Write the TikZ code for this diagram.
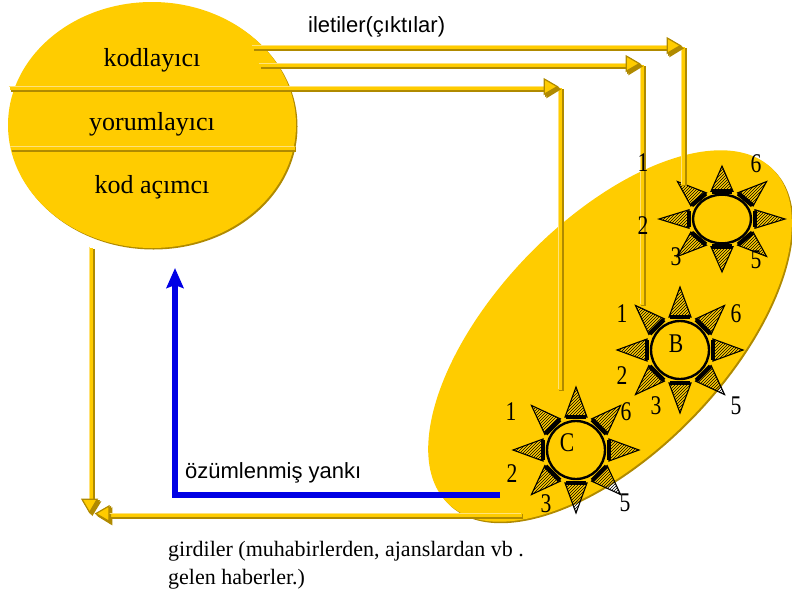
\documentclass[tikz,border=0pt]{standalone}
\usepackage{fontspec}
\setmainfont{Liberation Serif}
\setsansfont{Liberation Sans}
\usepackage{xcolor}
\usepackage{tikz}
\usetikzlibrary{arrows.meta,shapes,positioning,patterns}
\definecolor{gold}{HTML}{FFCC00}
\definecolor{golddark}{HTML}{B08A00}
\definecolor{goldlight}{HTML}{FFE27A}

\begin{document}
\begin{tikzpicture}[
    x=1pt,y=-1pt,
    blob/.style={ellipse,fill=gold,inner sep=0pt,
        preaction={fill=golddark,transform canvas={shift={(1.5pt,-1.5pt)}}}},
    role/.style={font=\fontsize{26}{28}\selectfont,inner sep=0pt},
    caption/.style={font=\sffamily\fontsize{22}{24}\selectfont,inner sep=0pt,anchor=west},
    note/.style={font=\fontsize{22}{28}\selectfont,inner sep=0pt,align=left,anchor=north west},
    num/.style={font=\fontsize{27}{29}\selectfont,inner sep=0pt,xscale=0.8},
    hub/.style={circle,draw=black,line width=2.4pt,minimum size=58pt,inner sep=0pt},
    pipe/.style={draw=gold,line width=4.4pt,
        preaction={draw=golddark,line width=4.4pt,transform canvas={shift={(1.3pt,-1.3pt)}}},
        postaction={draw=goldlight,line width=1.2pt,transform canvas={shift={(-1.4pt,1.4pt)}}}},
    tipped/.style={-{Triangle[length=15pt,width=17pt,fill=gold,color=golddark]}},
    echo/.style={blue!90!black,line width=6pt,-{Stealth[length=20pt,width=17pt,inset=3pt]}},
]
\useasboundingbox (0,0) rectangle (792,592);

\node[blob,minimum width=466pt,minimum height=230pt,rotate=46] (audience) at (610,336) {};
\node[blob,minimum width=288pt,minimum height=246pt] (source) at (152,125) {};

\draw[pipe] (10,88) -- (296,88);
\draw[pipe] (11,148) -- (295,148);

\node[role] (enc) at (152,60) {kodlayıcı};
\node[role] (int) at (152,124) {yorumlayıcı};
\node[role] (dec) at (152,187) {kod açımcı};

% three sun figures
\foreach \name/\cx/\cy/\sy in {sunA/722/219/0.84,sunB/680/350/1,sunC/576/450/1}{
  \node[hub,yscale=\sy] (\name) at (\cx,\cy) {};
  \begin{scope}[shift={(\cx,\cy)},yscale=\sy]
  \foreach \ang in {0,45,...,315}{
    \begin{scope}[rotate=\ang]
    \draw[black,line width=1.1pt,pattern=north east lines,pattern color=black] (33,-11) -- (63,0) -- (33,11) -- cycle;
    \draw[black,line width=4.5pt] (33,-10) -- (33,10);
    \end{scope}
  }
  \end{scope}
}
\node[num] (tagB) at (676,344) {B};
\node[num] (tagC) at (567,443) {C};

\coordinate (outA) at (253,47);
\coordinate (outB) at (260,65);
\coordinate (outC) at (255,88);
\coordinate (bendA) at (683,47);
\coordinate (bendB) at (642,65);
\coordinate (bendC) at (560,88);
\coordinate (inA) at (683,185);
\coordinate (inB) at (642,305);
\coordinate (inC) at (560,390);
\coordinate (backA) at (522,515);
\coordinate (backB) at (91,515);
\coordinate (backC) at (96,515);
\coordinate (downA) at (91,248);
\coordinate (echoA) at (500,495);
\coordinate (echoB) at (175,495);
\coordinate (echoC) at (175,268);

\draw[pipe] (bendA) -- (inA);
\draw[pipe] (bendB) -- (inB);
\draw[pipe] (bendC) -- (inC);
\draw[pipe,tipped] (outA) -- (bendA);
\draw[pipe,tipped] (outB) -- (bendB);
\draw[pipe,tipped] (outC) -- (bendC);
\draw[pipe,tipped] (downA) -- (backB);
\draw[pipe,tipped] (backA) -- (backC);
\draw[echo] (echoA) -- (echoB) -- (echoC);

\node[caption] (sent) at (308,27) {iletiler(çıktılar)};
\node[caption] (echotxt) at (185,473) {özümlenmiş yankı};
\node[note] (inputs) at (168,541) {girdiler (muhabirlerden, ajanslardan vb .\\gelen haberler.)};

% numbers round the suns
\foreach \txt/\x/\y in {1/643/163,2/643/226,3/676/257,5/756/260,6/756/164,
    1/622/314,2/622/376,3/656/406,5/736/406,6/736/314,
    1/511/412,2/512/474,3/546/504,5/625/503,6/626/412}{
  \node[num] at (\x,\y) {\txt};
}
\end{tikzpicture}
\end{document}
